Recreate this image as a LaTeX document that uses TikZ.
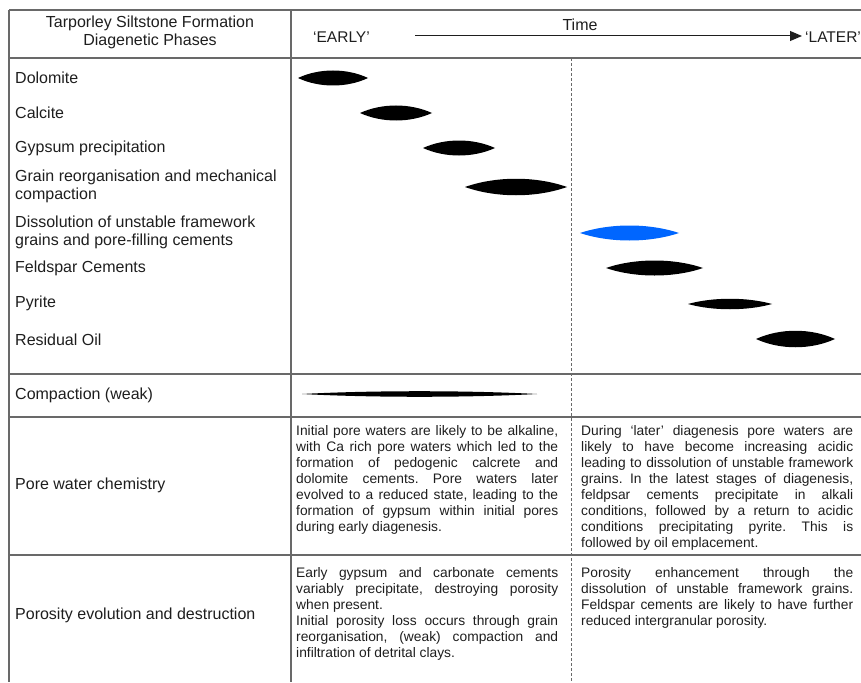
\documentclass[tikz,border=0pt]{standalone}
\usepackage{fontspec}
\setmainfont{Liberation Sans}
\usetikzlibrary{arrows.meta}
\definecolor{rulegray}{RGB}{105,105,105}
\definecolor{inkgray}{RGB}{30,30,30}
\definecolor{lensblue}{RGB}{0,102,255}
\frenchspacing
\begin{document}
\begin{tikzpicture}[x=1pt,y=-1pt,
    rule/.style={rulegray,line width=1.3pt},
    dashrule/.style={rulegray,line width=1pt,dash pattern=on 3pt off 2pt},
    lbl/.style={anchor=west,inner sep=0pt,text=inkgray,align=left,font=\fontsize{16}{18}\selectfont},
    body/.style={anchor=north west,inner sep=0pt,text=inkgray,align=justify,font=\fontsize{13.8}{16}\selectfont},
    lens/.style={fill=black},
    bluelens/.style={fill=lensblue}]
    \useasboundingbox (0,0) rectangle (861,682);
    \draw[rule] (9,10)--(861,10);
    \draw[rule] (9,58)--(861,58);
    \draw[rule] (9,374)--(861,374);
    \draw[rule] (9,417)--(861,417);
    \draw[rule] (9,555)--(861,555);
    \draw[rule] (9,10)--(9,682);
    \draw[rule] (291,10)--(291,682);
    \draw[dashrule] (571,58)--(571,682);
    \node[lbl,anchor=center,align=center] (phases) at (150,32) {Tarporley Siltstone Formation\\Diagenetic Phases};
    \node[lbl,font=\fontsize{15.5}{18}\selectfont] (early) at (313,37) {`EARLY'};
    \node[lbl,anchor=center] (time) at (580,25) {Time};
    \node[lbl,font=\fontsize{15.5}{18}\selectfont] (later) at (805,37) {`LATER'};
    \coordinate (tstart) at (415,36);
    \draw[inkgray,line width=1pt,-{Triangle[length=12pt,width=10pt]}] (tstart)--([xshift=-3pt]tstart-|later.west);
    \node[lbl] (dolomite) at (15,78) {Dolomite};
    \node[lbl] (calcite) at (15,113) {Calcite};
    \node[lbl] (gypsum) at (15,148) {Gypsum precipitation};
    \node[lbl] (grain) at (15,186) {Grain reorganisation and mechanical\\compaction};
    \node[lbl] (dissolution) at (15,232) {Dissolution of unstable framework\\grains and pore-filling cements};
    \node[lbl] (feldspar) at (15,268) {Feldspar Cements};
    \node[lbl] (pyrite) at (15,303) {Pyrite};
    \node[lbl] (oil) at (15,340) {Residual Oil};
    \node[lbl] (compaction) at (15,395) {Compaction (weak)};
    \node[lbl] (chemistry) at (15,485) {Pore water chemistry};
    \node[lbl] (porosity) at (15,615) {Porosity evolution and destruction};
    \fill[lens] (298,78) .. controls (319,68) and (347,68) .. (368,78) .. controls (347,88) and (319,88) .. (298,78);
    \fill[lens] (360,113) .. controls (382,103) and (410,103) .. (432,113) .. controls (410,123) and (382,123) .. (360,113);
    \fill[lens] (423,148) .. controls (445,138) and (473,138) .. (495,148) .. controls (473,158) and (445,158) .. (423,148);
    \fill[lens] (465,187) .. controls (496,176) and (536,176) .. (567,187) .. controls (536,198) and (496,198) .. (465,187);
    \fill[bluelens] (580,233) .. controls (610,223) and (649,223) .. (679,233) .. controls (649,243) and (610,243) .. (580,233);
    \fill[lens] (606,268) .. controls (635,258) and (674,258) .. (703,268) .. controls (674,278) and (635,278) .. (606,268);
    \fill[lens] (688,304) .. controls (713,297) and (747,297) .. (772,304) .. controls (747,311) and (713,311) .. (688,304);
    \fill[lens] (756,339) .. controls (780,328) and (811,328) .. (835,339) .. controls (811,350) and (780,350) .. (756,339);
    \fill[lens] (302,394) .. controls (372,390.3) and (467,390.3) .. (537,394) .. controls (467,397.7) and (372,397.7) .. (302,394);
    \node[body,text width=262pt] (earlywater) at (296,425) {Initial pore waters are likely to be alkaline,\linebreak
      with Ca rich pore waters which led to the\linebreak
      formation of pedogenic calcrete and\linebreak
      dolomite cements. Pore waters later\linebreak
      evolved to a reduced state, leading to the\linebreak
      formation of gypsum within initial pores\linebreak
      during early diagenesis.};
    \node[body,text width=272pt] (laterwater) at (581,425) {During `later' diagenesis pore waters are\linebreak
      likely to have become increasing acidic\linebreak
      leading to dissolution of unstable framework\linebreak
      grains. In the latest stages of diagenesis,\linebreak
      feldpsar cements precipitate in alkali\linebreak
      conditions, followed by a return to acidic\linebreak
      conditions precipitating pyrite. This is\linebreak
      followed by oil emplacement.};
    \node[body,text width=262pt] (earlypores) at (296,567) {Early gypsum and carbonate cements\linebreak
      variably precipitate, destroying porosity\linebreak
      when present.\par
      Initial porosity loss occurs through grain\linebreak
      reorganisation, (weak) compaction and\linebreak
      infiltration of detrital clays.};
    \node[body,text width=272pt] (laterpores) at (581,567) {Porosity enhancement through the\linebreak
      dissolution of unstable framework grains.\linebreak
      Feldspar cements are likely to have further\linebreak
      reduced intergranular porosity.};
\end{tikzpicture}
\end{document}
